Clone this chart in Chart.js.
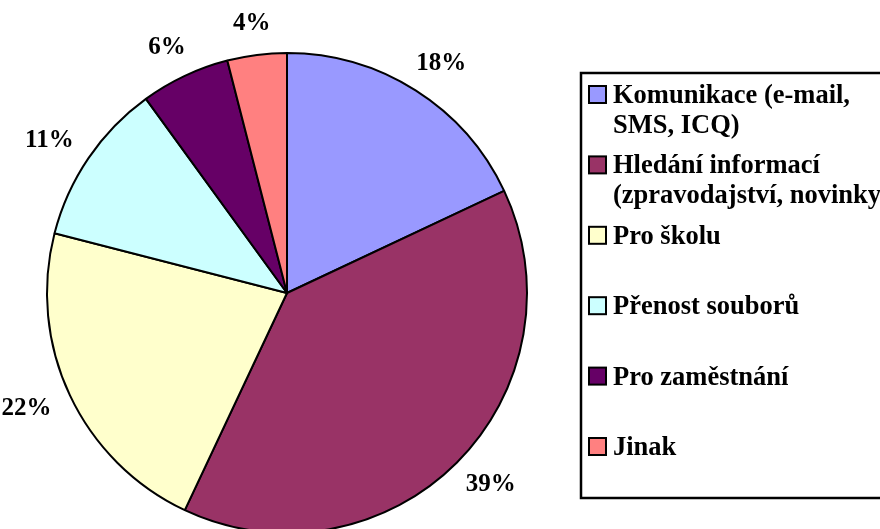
<!DOCTYPE html>
<html>
<head>
<meta charset="utf-8">
<script src="https://cdn.jsdelivr.net/npm/chart.js@4"></script>
<style>
  html, body { margin: 0; padding: 0; background: #fff; overflow: hidden; }
  canvas { display: block; }
</style>
</head>
<body>
<canvas id="myChart" width="880" height="529"></canvas>
<script>
'use strict';

// categories (split into the lines shown in the legend)
const categories = [
  ['Komunikace (e-mail,', 'SMS, ICQ)'],
  ['Hledání informací', '(zpravodajství, novinky)'],
  ['Pro školu'],
  ['Přenost souborů'],
  ['Pro zaměstnání'],
  ['Jinak'],
];
const shares = [18, 39, 22, 11, 6, 4];
const sliceColors = ['#9999FF', '#993366', '#FFFFCC', '#CCFFFF', '#660066', '#FF8080'];

const serif = '"Liberation Serif", "Times New Roman", serif';

// percent labels just outside each slice
const pctLabels = {
  id: 'pctLabels',
  afterDatasetsDraw(chart) {
    const ctx = chart.ctx;
    const meta = chart.getDatasetMeta(0);
    const data = chart.data.datasets[0].data;
    ctx.save();
    ctx.font = 'bold 25px ' + serif;
    ctx.fillStyle = '#000';
    ctx.textAlign = 'center';
    ctx.textBaseline = 'middle';
    meta.data.forEach((arc, i) => {
      const {x, y, startAngle, endAngle, outerRadius} = arc.getProps(['x', 'y', 'startAngle', 'endAngle', 'outerRadius'], true);
      const mid = (startAngle + endAngle) / 2;
      const dx = Math.cos(mid), dy = Math.sin(mid);
      const text = data[i] + '%';
      const w = ctx.measureText(text).width;
      const h = 17;
      const r = outerRadius + 23;
      ctx.fillText(text, x + dx * r + dx * w / 2, y + dy * r + dy * h / 2);
    });
    ctx.restore();
  }
};

// boxed legend on the right
const boxLegend = {
  id: 'boxLegend',
  afterDraw(chart) {
    const ctx = chart.ctx;
    const colors = chart.data.datasets[0].backgroundColor;
    ctx.save();
    ctx.lineWidth = 2.5;
    ctx.strokeStyle = '#000';
    ctx.strokeRect(581, 73, 330, 425);
    ctx.font = 'bold 26.5px ' + serif;
    ctx.textAlign = 'left';
    ctx.textBaseline = 'alphabetic';
    chart.data.labels.forEach((lines, i) => {
      const base = 103 + i * 70.4;
      ctx.fillStyle = colors[i];
      ctx.fillRect(589, base - 17, 17, 17);
      ctx.lineWidth = 2;
      ctx.strokeRect(589, base - 17, 17, 17);
      ctx.fillStyle = '#000';
      lines.forEach((line, k) => {
        ctx.fillText(line, 613, base + k * 30);
      });
    });
    ctx.restore();
  }
};

new Chart(document.querySelector('#myChart'), {
  type: 'pie',
  data: {
    labels: categories,
    datasets: [
      {
        data: shares,
        backgroundColor: sliceColors,
        borderColor: '#000',
        borderWidth: 2,
        clip: false,
      },
    ],
  },
  options: {
    responsive: false,
    animation: false,
    radius: 240,
    layout: {
      padding: {left: 47, right: 353, top: 57, bottom: 0}
    },
    plugins: {
      legend: {display: false},
      tooltip: {enabled: false},
    },
  },
  plugins: [pctLabels, boxLegend],
});
</script>
</body>
</html>
